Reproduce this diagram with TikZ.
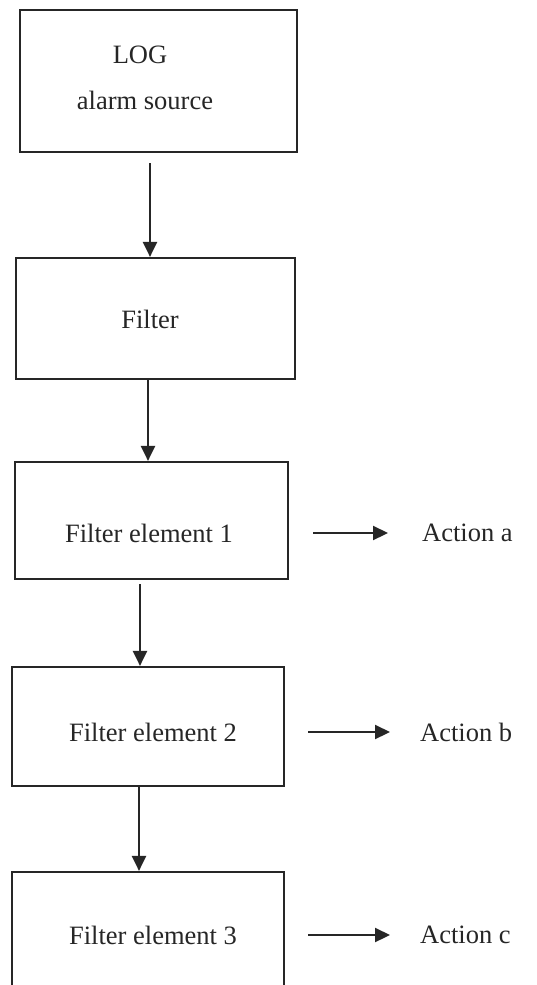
\documentclass[tikz,border=0pt]{standalone}
\usepackage{fontspec}
\setmainfont{Liberation Serif}
\usetikzlibrary{arrows.meta}
\begin{document}
\begin{tikzpicture}[x=1pt,y=-1pt,
  box/.style={draw=black!85,line width=2.2pt,rectangle,inner sep=0pt},
  lbl/.style={font=\fontsize{26.5}{30}\selectfont,inner sep=0pt,text=black!85},
  arr/.style={draw=black!85,line width=2.2pt,-{Triangle[width=14pt,length=15pt]}}]
\useasboundingbox (0,0) rectangle (536,985);
\clip (0,0) rectangle (536,985);
\fill[white] (0,0) rectangle (536,985);
% boxes
\node[box,minimum width=277pt,minimum height=142pt] (b1) at (158.5,81) {};
\node[box,minimum width=279pt,minimum height=121pt] (b2) at (155.5,318.5) {};
\node[box,minimum width=273pt,minimum height=117pt] (b3) at (151.5,520.5) {};
\node[box,minimum width=272pt,minimum height=119pt] (b4) at (148,726.5) {};
\node[box,minimum width=272pt,minimum height=130pt] (b5) at (148,937) {};
% texts
\node[lbl] (t1a) at (140,55) {LOG};
\node[lbl] (t1b) at (145,100) {alarm source};
\node[lbl] (t2) at (150,319) {Filter};
\node[lbl] (t3) at (149,533) {Filter element 1};
\node[lbl] (t4) at (153,732) {Filter element 2};
\node[lbl] (t5) at (153,935) {Filter element 3};
\node[lbl,anchor=west] (a3) at (422,533) {Action a};
\node[lbl,anchor=west] (a4) at (420,732) {Action b};
\node[lbl,anchor=west] (a5) at (420,935) {Action c};
% vertical arrows
\draw[arr] ([xshift=-8.5pt,yshift=-10pt]b1.south) -- ([xshift=-5.5pt]b2.north);
\draw[arr] ([xshift=-7.5pt]b2.south) -- ([xshift=-3.5pt]b3.north);
\draw[arr] ([xshift=-11.5pt,yshift=-4pt]b3.south) -- ([xshift=-8pt]b4.north);
\draw[arr] ([xshift=-9pt]b4.south) -- ([xshift=-9pt]b5.north);
% horizontal arrows
\draw[arr,shorten <=24pt,shorten >=34pt] (b3.east |- a3.west) -- (a3.west);
\draw[arr,shorten <=23pt,shorten >=30pt] (b4.east |- a4.west) -- (a4.west);
\draw[arr,shorten <=23pt,shorten >=30pt] (b5.east |- a5.west) -- (a5.west);
\end{tikzpicture}
\end{document}
